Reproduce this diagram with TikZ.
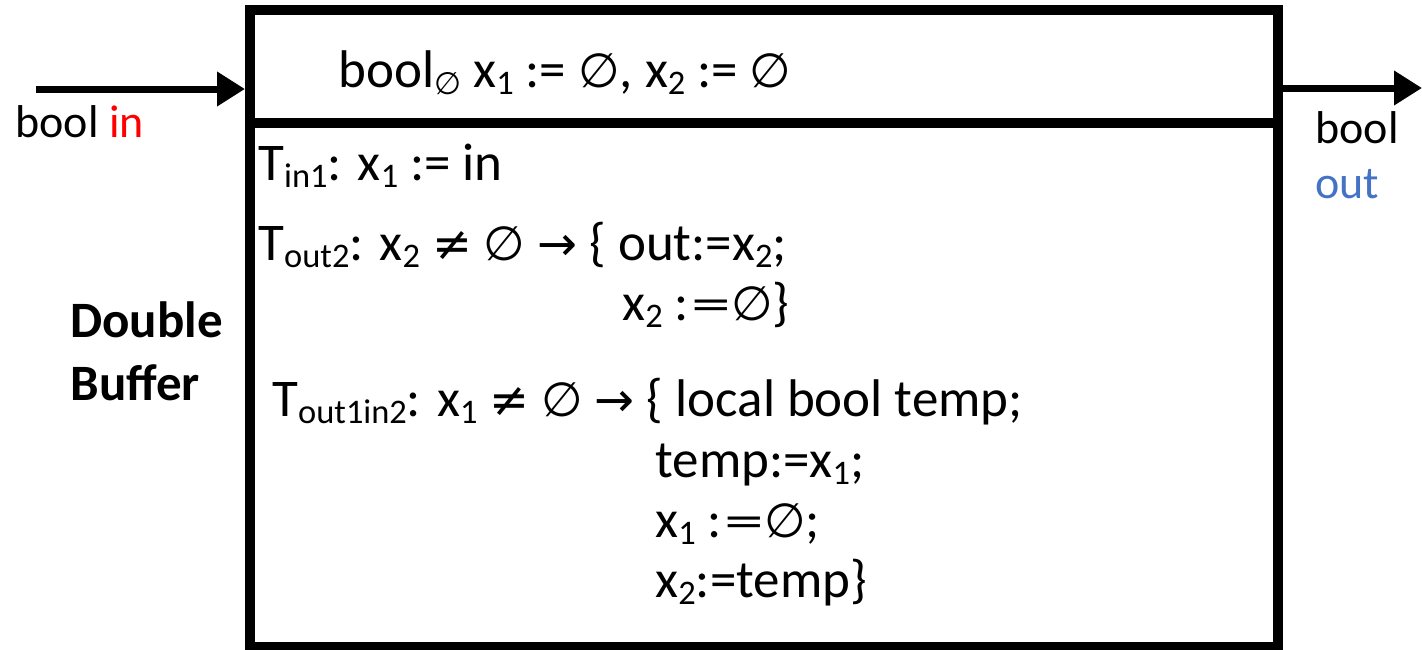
\documentclass[tikz,border=0pt]{standalone}
\usepackage{fontspec}
\usepackage{graphicx}
\setmainfont{Carlito}
\newfontfamily\symfont[Scale=0.9]{DejaVu Sans}
\usetikzlibrary{arrows.meta}

\definecolor{outblue}{HTML}{4472C4}
\newcommand{\lo}[1]{\raisebox{-0.14em}{\scalebox{0.65}{#1}}}
\newcommand{\nul}{{\symfont ∅}}
\newcommand{\neqs}{{\symfont ≠}}
\newcommand{\arr}{{\symfont →}}
\newcommand{\defeq}{:\kern0.05em\scalebox{1.5}[0.9]{=}}

\begin{document}
\begin{tikzpicture}[x=0.5pt,y=-0.5pt,
  txt/.style={anchor=base west,inner sep=0pt,font=\fontsize{26.5}{30}\selectfont},
  lbl/.style={anchor=base west,inner sep=0pt,font=\fontsize{23}{27}\selectfont},
  wire/.style={line width=3.5pt,-{Triangle[length=14pt,width=16.5pt]}}]
  \useasboundingbox (0,0) rectangle (1422,649);

  % component frame and state header
  \node[draw,line width=5pt,minimum width=514pt,minimum height=318.5pt] (frame) at (764,328.5) {};
  \node[draw,line width=5pt,minimum width=514pt,minimum height=56.5pt] (hdr) at (764,66.5) {};

  % ports
  \coordinate (src) at (36,89);
  \coordinate (snk) at (1422,88);
  \draw[wire] (src) -- (src -| frame.west);
  \draw[wire] (frame.east |- snk) -- (snk);

  \node[lbl] (inlbl) at (15,137) {bool \textcolor{red}{in}};
  \node[lbl] (outlbl) at (1315,143) {bool};
  \node[lbl,text=outblue] (outname) at (1315,198) {out};

  \node[anchor=base west,inner sep=0pt,font=\bfseries\fontsize{25.5}{30}\selectfont] (name) at (70,337) {Double};
  \node[anchor=base west,inner sep=0pt,font=\bfseries\fontsize{25.5}{30}\selectfont] (nameb) at (70,400) {Buffer};

  % state
  \node[txt] (decl) at (338,87) {bool\lo{\nul} x\lo{1} := \nul, x\lo{2} := \nul};

  % transitions
  \node[txt] (tin) at (258,180) {T\lo{in1}: x\lo{1} := in};
  \node[txt] (tout) at (258,260) {T\lo{out2}: x\lo{2} \neqs{} \nul{} \arr{} \{ out:=x\lo{2};};
  \node[txt] (toutb) at (622,320) {x\lo{2} \defeq\nul\}};
  \node[txt] (tswap) at (272,416) {T\lo{out1in2}: x\lo{1} \neqs{} \nul{} \arr{} \{ local bool temp;};
  \node[txt] (tswapb) at (655,477) {temp:=x\lo{1};};
  \node[txt] (tswapc) at (655,537) {x\lo{1} \defeq\nul;};
  \node[txt] (tswapd) at (655,597) {x\lo{2}:=temp\}};

\end{tikzpicture}
\end{document}
